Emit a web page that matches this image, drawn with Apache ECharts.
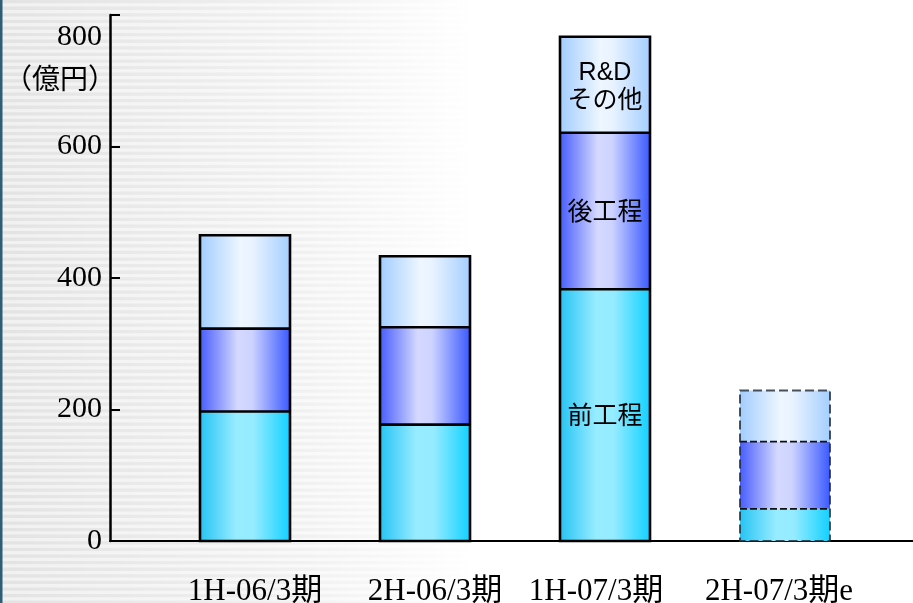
<!DOCTYPE html>
<html>
<head>
<meta charset="utf-8">
<script src="https://cdn.jsdelivr.net/npm/echarts@6/dist/echarts.min.js"></script>
<style>
  html, body { margin: 0; padding: 0; background: #fff; }
  #chart { width: 913px; height: 603px; }
</style>
</head>
<body>
<div id="chart"></div>
<script>
// Periods and stacked amounts (億円)
const periods   = ['1H-06/3期', '2H-06/3期', '1H-07/3期', '2H-07/3期e'];
const frontEnd  = [197, 177, 383, 49];   // 前工程
const backEnd   = [126, 148, 238, 102];  // 後工程
const rdOther   = [142, 108, 146, 78];   // R&D その他
const segmentNames = ['前工程', '後工程', 'R&D\nその他'];
const yTicks    = [0, 200, 400, 600, 800];
const unitLabel = '（億円）';

const forecastIndex = 3;   // last period is an estimate: dashed outline
const namedIndex = 2;      // the bar that carries the segment names

// small horizontal nudges for the period labels (px)
const labelShift = [10, 10, -9, -6];

const serif = "'Liberation Serif','Times New Roman','Noto Sans CJK JP',serif";
const sans = "'Liberation Sans',Arial,'Noto Sans CJK JP',sans-serif";

const chart = echarts.init(document.getElementById('chart'), null, { renderer: 'canvas' });
const LG = echarts.graphic.LinearGradient;

function hGrad(stops) {
  return new LG(0, 0, 1, 0, stops.map(s => ({ offset: s[0], color: s[1] })));
}

// fills, bottom to top
const segmentFills = [
  [[0, '#26c4f4'], [0.4, '#97ecff'], [0.6, '#95ebff'], [1, '#12d1ff']],
  [[0, '#485dff'], [0.42, '#d5d9ff'], [0.58, '#cdd3ff'], [1, '#3b5aff']],
  [[0, '#a2cdff'], [0.45, '#eef6ff'], [0.58, '#e9f3ff'], [1, '#a5ceff']]
];

const barData = periods.map((p, i) => [i, frontEnd[i], backEnd[i], rdOther[i]]);
const BAR_W = 90;

function renderStack(params, api) {
  const i = api.value(0);
  const vals = [api.value(1), api.value(2), api.value(3)];
  const base = api.coord([i, 0]);
  const x = base[0] - BAR_W / 2;
  const ys = [base[1]];
  let cum = 0;
  vals.forEach(v => { cum += v; ys.push(api.coord([i, cum])[1]); });

  const dashed = i === forecastIndex;
  const children = [];
  segmentFills.forEach((stops, k) => {
    children.push({
      type: 'rect',
      shape: { x: x, y: ys[k + 1], width: BAR_W, height: ys[k] - ys[k + 1] },
      style: { fill: hGrad(stops) }
    });
  });
  // dividers between segments
  [1, 2].forEach(k => {
    children.push({
      type: 'line',
      shape: { x1: x, y1: ys[k], x2: x + BAR_W, y2: ys[k] },
      style: {
        stroke: dashed ? '#111' : '#000', lineWidth: dashed ? 1.8 : 2.6,
        lineDash: dashed ? [7, 3] : null
      }
    });
  });
  // outline
  children.push({
    type: 'rect',
    shape: { x: x, y: ys[3], width: BAR_W, height: ys[0] - ys[3] },
    style: {
      fill: 'none', stroke: dashed ? 'rgba(30,40,50,0.8)' : '#000',
      lineWidth: dashed ? 2 : 2.6, lineDash: dashed ? [9, 4] : null
    }
  });
  if (i === namedIndex) {
    segmentNames.forEach((name, k) => {
      children.push({
        type: 'text',
        style: {
          text: name, x: base[0], y: (ys[k] + ys[k + 1]) / 2 + 2,
          align: 'center', verticalAlign: 'middle',
          textAlign: 'center', textVerticalAlign: 'middle',
          fontFamily: sans, fontSize: 25, lineHeight: 28, fill: '#000'
        }
      });
    });
  }
  return { type: 'group', children: children };
}

// Striped, fading backdrop on the left and the thin edge rule
const graphics = [];
graphics.push({
  type: 'rect', z: -100, silent: true,
  shape: { x: 0, y: 0, width: 476, height: 603 },
  style: { fill: hGrad([[0, '#f1f1f1'], [0.65, '#f9f9f9'], [1, '#ffffff']]) }
});
for (let y = 0; y < 603; y += 6.6) {
  graphics.push({
    type: 'rect', z: -99, silent: true,
    shape: { x: 0, y: y, width: 476, height: 3.3 },
    style: { fill: hGrad([[0, 'rgba(0,0,0,0.06)'], [0.65, 'rgba(0,0,0,0.03)'], [1, 'rgba(0,0,0,0)']]) }
  });
}
graphics.push({
  type: 'rect', z: 50, silent: true,
  shape: { x: 0, y: 0, width: 2.5, height: 603 },
  style: { fill: '#2c5f73' }
});

const option = {
  backgroundColor: 'transparent',
  animation: false,
  graphic: { elements: graphics },
  grid: [
    { left: 155, right: 38, top: 15, bottom: 62, outerBoundsMode: 'none', containLabel: false },
    { left: 110, right: 0, top: 15, bottom: 62, outerBoundsMode: 'none', containLabel: false }
  ],
  xAxis: [
    {
      type: 'category', gridIndex: 0,
      data: periods.map((p, i) => ({
        value: p,
        textStyle: {
          padding: labelShift[i] >= 0 ? [0, 0, 0, 2 * labelShift[i]] : [0, -2 * labelShift[i], 0, 0]
        }
      })),
      axisLine: { show: false }, axisTick: { show: false },
      axisLabel: { fontFamily: serif, fontSize: 31, color: '#000', margin: 35, interval: 0 }
    },
    {
      type: 'value', gridIndex: 1, min: 0, max: 1,
      axisLine: { show: true, lineStyle: { color: '#000', width: 2 } },
      axisTick: { show: false }, axisLabel: { show: false }, splitLine: { show: false }
    }
  ],
  yAxis: [
    {
      type: 'value', gridIndex: 0, min: yTicks[0], max: yTicks[yTicks.length - 1],
      interval: yTicks[1] - yTicks[0], show: false
    },
    {
      type: 'value', gridIndex: 1, min: yTicks[0], max: yTicks[yTicks.length - 1],
      interval: yTicks[1] - yTicks[0],
      name: unitLabel, nameLocation: 'end', nameGap: -63,
      nameTextStyle: {
        fontFamily: "'Noto Sans CJK JP',sans-serif", fontSize: 28, color: '#000',
        align: 'center', verticalAlign: 'middle', padding: [0, 100, 0, 0]
      },
      axisLine: { show: true, lineStyle: { color: '#000', width: 2.5 } },
      axisTick: { show: true, inside: true, length: 10, lineStyle: { color: '#000', width: 2 } },
      splitLine: { show: false },
      axisLabel: {
        fontFamily: serif, fontSize: 30, color: '#000', margin: 8,
        formatter: v => (v === yTicks[yTicks.length - 1] ? '{top|' + v + '}' : String(v)),
        rich: { top: { fontFamily: serif, fontSize: 30, color: '#000', padding: [44, 0, 0, 0] } }
      }
    }
  ],
  series: [{
    type: 'custom',
    name: '売上',
    xAxisIndex: 0,
    yAxisIndex: 0,
    encode: { x: 0, y: [1, 2, 3] },
    renderItem: renderStack,
    data: barData,
    silent: true
  }]
};

chart.setOption(option);
</script>
</body>
</html>
